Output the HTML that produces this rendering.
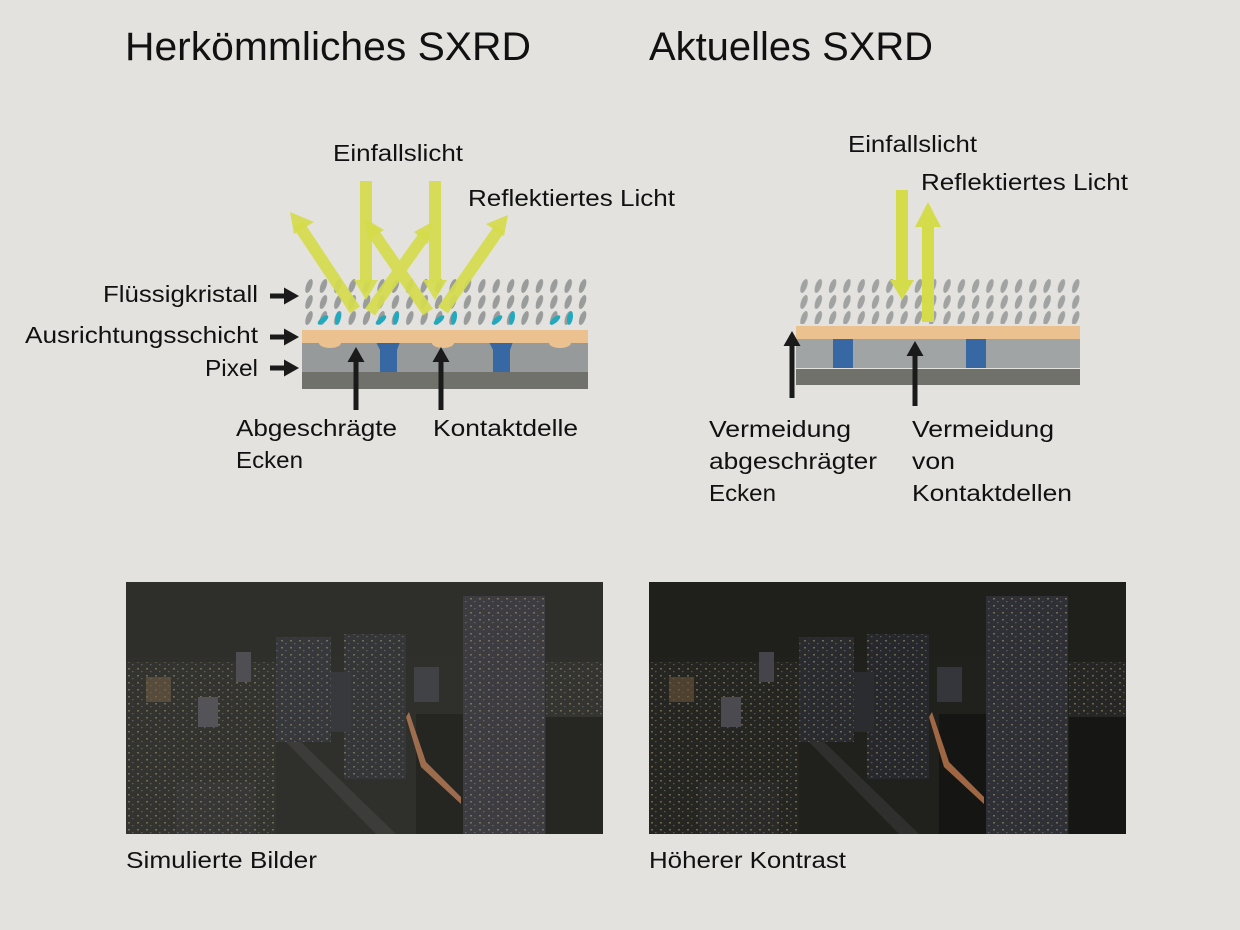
<!DOCTYPE html>
<html><head><meta charset="utf-8"><style>
html,body{margin:0;padding:0;background:#e3e2df;}
svg{display:block;font-family:"Liberation Sans",sans-serif;}
</style></head><body>
<svg width="1240" height="930" viewBox="0 0 1240 930" xmlns="http://www.w3.org/2000/svg">
<defs>
<pattern id="lc" x="302" y="278" width="14.4" height="16" patternUnits="userSpaceOnUse">
<ellipse cx="7" cy="8" rx="3" ry="7.3" fill="#999c9b" transform="rotate(20 7 8)"/>
</pattern>
<pattern id="lc2" x="797" y="278" width="14.3" height="16" patternUnits="userSpaceOnUse">
<ellipse cx="7" cy="8" rx="3" ry="7.3" fill="#a0a3a2" transform="rotate(20 7 8)"/>
</pattern>
<pattern id="win" width="9" height="7" patternUnits="userSpaceOnUse">
<rect x="2" y="2" width="2" height="1.5" fill="#d9c88a" opacity="0.4"/>
<rect x="6" y="5" width="1.5" height="1.2" fill="#e8e8f0" opacity="0.25"/>
</pattern>
<marker id="bk" markerWidth="3" markerHeight="3.4" refX="0" refY="1.7" orient="auto" markerUnits="strokeWidth"><path d="M0,0 L3,1.7 L0,3.4z" fill="#1a1a1a"/></marker>
<symbol id="city" viewBox="0 0 477 252">
<rect width="477" height="252" fill="#1f1f1c"/>
<rect x="0" y="75" width="477" height="177" fill="#20201d"/>
<rect x="0" y="80" width="150" height="172" fill="#252522"/>
<rect x="0" y="80" width="150" height="172" fill="url(#win)"/>
<rect x="20" y="95" width="25" height="25" fill="#6a5538" opacity="0.6"/>
<rect x="72" y="115" width="20" height="30" fill="#4a4a50"/>
<rect x="110" y="70" width="15" height="30" fill="#44444a"/>
<rect x="150" y="55" width="55" height="105" fill="#2a2b2f"/>
<rect x="150" y="55" width="55" height="105" fill="url(#win)"/>
<rect x="218" y="52" width="62" height="145" fill="#27282b"/>
<rect x="218" y="52" width="62" height="145" fill="url(#win)"/>
<rect x="205" y="90" width="20" height="60" fill="#2b2c30"/>
<rect x="288" y="85" width="25" height="35" fill="#34363c"/>
<rect x="290" y="132" width="50" height="120" fill="#151513"/>
<path d="M283,130 L300,180 L335,215 L335,222 L295,185 L280,135z" fill="#c07a50" opacity="0.8"/>
<rect x="420" y="80" width="57" height="55" fill="#262624"/>
<rect x="420" y="80" width="57" height="55" fill="url(#win)"/>
<rect x="420" y="135" width="57" height="117" fill="#161614"/>
<rect x="337" y="14" width="82" height="238" fill="#2f2f36"/>
<rect x="337" y="14" width="82" height="238" fill="url(#win)"/>
<path d="M160,160 L250,252 L270,252 L175,160z" fill="#3a3a3a" opacity="0.6"/>
<rect x="50" y="200" width="80" height="52" fill="#2a2a28"/>
<rect x="50" y="200" width="80" height="52" fill="url(#win)"/>
</symbol>
</defs>

<text x="125" y="60" font-size="40" fill="#111" textLength="406" lengthAdjust="spacingAndGlyphs">Herkömmliches SXRD</text>
<text x="649" y="60" font-size="40" fill="#111" textLength="284" lengthAdjust="spacingAndGlyphs">Aktuelles SXRD</text>

<rect x="302" y="278" width="287" height="48" fill="url(#lc)"/>
<g fill="#22a9be">
<ellipse cx="323" cy="320" rx="2.8" ry="6.5" transform="rotate(50 323 320)"/>
<ellipse cx="338" cy="318" rx="2.8" ry="7" transform="rotate(10 338 318)"/>
<ellipse cx="381" cy="320" rx="2.8" ry="6.5" transform="rotate(50 381 320)"/>
<ellipse cx="396" cy="318" rx="2.8" ry="7" transform="rotate(10 396 318)"/>
<ellipse cx="439" cy="320" rx="2.8" ry="6.5" transform="rotate(50 439 320)"/>
<ellipse cx="454" cy="318" rx="2.8" ry="7" transform="rotate(10 454 318)"/>
<ellipse cx="497" cy="320" rx="2.8" ry="6.5" transform="rotate(50 497 320)"/>
<ellipse cx="512" cy="318" rx="2.8" ry="7" transform="rotate(10 512 318)"/>
<ellipse cx="555" cy="320" rx="2.8" ry="6.5" transform="rotate(50 555 320)"/>
<ellipse cx="570" cy="318" rx="2.8" ry="7" transform="rotate(10 570 318)"/>
</g>
<rect x="302" y="342" width="286" height="30" fill="#969a9b"/>
<rect x="302" y="372" width="286" height="17" fill="#71716b"/>
<path d="M376,342 L400,342 L397,350 L397,372 L380,372 L380,350z" fill="#3768a4"/>
<path d="M489,342 L513,342 L510,350 L510,372 L493,372 L493,350z" fill="#3768a4"/>
<rect x="302" y="330" width="286" height="13" fill="#ebc190"/>
<ellipse cx="330" cy="343" rx="11" ry="5" fill="#ebc190"/>
<ellipse cx="443" cy="343" rx="11" ry="5" fill="#ebc190"/>
<ellipse cx="560" cy="343" rx="11" ry="5" fill="#ebc190"/>

<g stroke="#d5dc4c" stroke-width="12" fill="none" opacity="0.92">
<line x1="366" y1="181" x2="366" y2="282"/>
<line x1="435" y1="181" x2="435" y2="282"/>
<line x1="355" y1="310" x2="298" y2="224"/>
<line x1="370" y1="312" x2="427" y2="232"/>
<line x1="428" y1="312" x2="370" y2="228"/>
<line x1="443" y1="310" x2="500" y2="228"/>
</g>
<g fill="#d5dc4c" opacity="0.92">
<path d="M354,280 L378,280 L366,300z"/>
<path d="M423,280 L447,280 L435,300z"/>
<path d="M290,212 L314,222 L294,234z"/>
<path d="M508,215 L504,236 L486,224z"/>
<path d="M432,222 L428,244 L414,232z"/>
<path d="M364,218 L384,230 L368,240z"/>
</g>

<g stroke="#1a1a1a" stroke-width="5">
<line x1="270" y1="296" x2="284" y2="296" marker-end="url(#bk)"/>
<line x1="270" y1="337" x2="284" y2="337" marker-end="url(#bk)"/>
<line x1="270" y1="368" x2="284" y2="368" marker-end="url(#bk)"/>
<line x1="356" y1="410" x2="356" y2="362" marker-end="url(#bk)"/>
<line x1="441" y1="410" x2="441" y2="362" marker-end="url(#bk)"/>
</g>

<g font-size="23" fill="#111">
<text x="333" y="161" textLength="130" lengthAdjust="spacingAndGlyphs">Einfallslicht</text>
<text x="468" y="206" textLength="207" lengthAdjust="spacingAndGlyphs">Reflektiertes Licht</text>
<text x="103" y="302" textLength="155" lengthAdjust="spacingAndGlyphs">Flüssigkristall</text>
<text x="25" y="343" textLength="233" lengthAdjust="spacingAndGlyphs">Ausrichtungsschicht</text>
<text x="205" y="376" textLength="53" lengthAdjust="spacingAndGlyphs">Pixel</text>
<text x="236" y="436" textLength="161" lengthAdjust="spacingAndGlyphs">Abgeschrägte</text>
<text x="236" y="468" textLength="67" lengthAdjust="spacingAndGlyphs">Ecken</text>
<text x="433" y="436" textLength="145" lengthAdjust="spacingAndGlyphs">Kontaktdelle</text>
</g>

<rect x="797" y="278" width="284" height="46" fill="url(#lc2)"/>
<rect x="796" y="339" width="284" height="29" fill="#a0a4a4"/>
<rect x="796" y="369" width="284" height="16" fill="#71716b"/>
<rect x="833" y="339" width="20" height="29" fill="#3768a4"/>
<rect x="966" y="339" width="20" height="29" fill="#3768a4"/>
<rect x="796" y="326" width="284" height="13" fill="#ebc190"/>
<g fill="#d5dc4c">
<rect x="896" y="190" width="12" height="92"/>
<path d="M890,280 L914,280 L902,300z"/>
<rect x="922" y="226" width="12" height="96"/>
<path d="M915,227 L941,227 L928,202z"/>
</g>
<g stroke="#1a1a1a" stroke-width="5">
<line x1="792" y1="398" x2="792" y2="346" marker-end="url(#bk)"/>
<line x1="915" y1="406" x2="915" y2="356" marker-end="url(#bk)"/>
</g>
<g font-size="23" fill="#111">
<text x="848" y="152" textLength="129" lengthAdjust="spacingAndGlyphs">Einfallslicht</text>
<text x="921" y="190" textLength="207" lengthAdjust="spacingAndGlyphs">Reflektiertes Licht</text>
<text x="709" y="437" textLength="142" lengthAdjust="spacingAndGlyphs">Vermeidung</text>
<text x="709" y="469" textLength="168" lengthAdjust="spacingAndGlyphs">abgeschrägter</text>
<text x="709" y="501" textLength="67" lengthAdjust="spacingAndGlyphs">Ecken</text>
<text x="912" y="437" textLength="142" lengthAdjust="spacingAndGlyphs">Vermeidung</text>
<text x="912" y="469" textLength="43" lengthAdjust="spacingAndGlyphs">von</text>
<text x="912" y="501" textLength="160" lengthAdjust="spacingAndGlyphs">Kontaktdellen</text>
</g>

<svg x="126" y="582" width="477" height="252" viewBox="0 0 477 252"><use href="#city"/><rect width="477" height="252" fill="#9a9a90" opacity="0.12"/></svg>
<svg x="649" y="582" width="477" height="252" viewBox="0 0 477 252"><use href="#city"/></svg>

<g font-size="23" fill="#111">
<text x="126" y="868" textLength="191" lengthAdjust="spacingAndGlyphs">Simulierte Bilder</text>
<text x="649" y="868" textLength="197" lengthAdjust="spacingAndGlyphs">Höherer Kontrast</text>
</g>
</svg>
</body></html>
